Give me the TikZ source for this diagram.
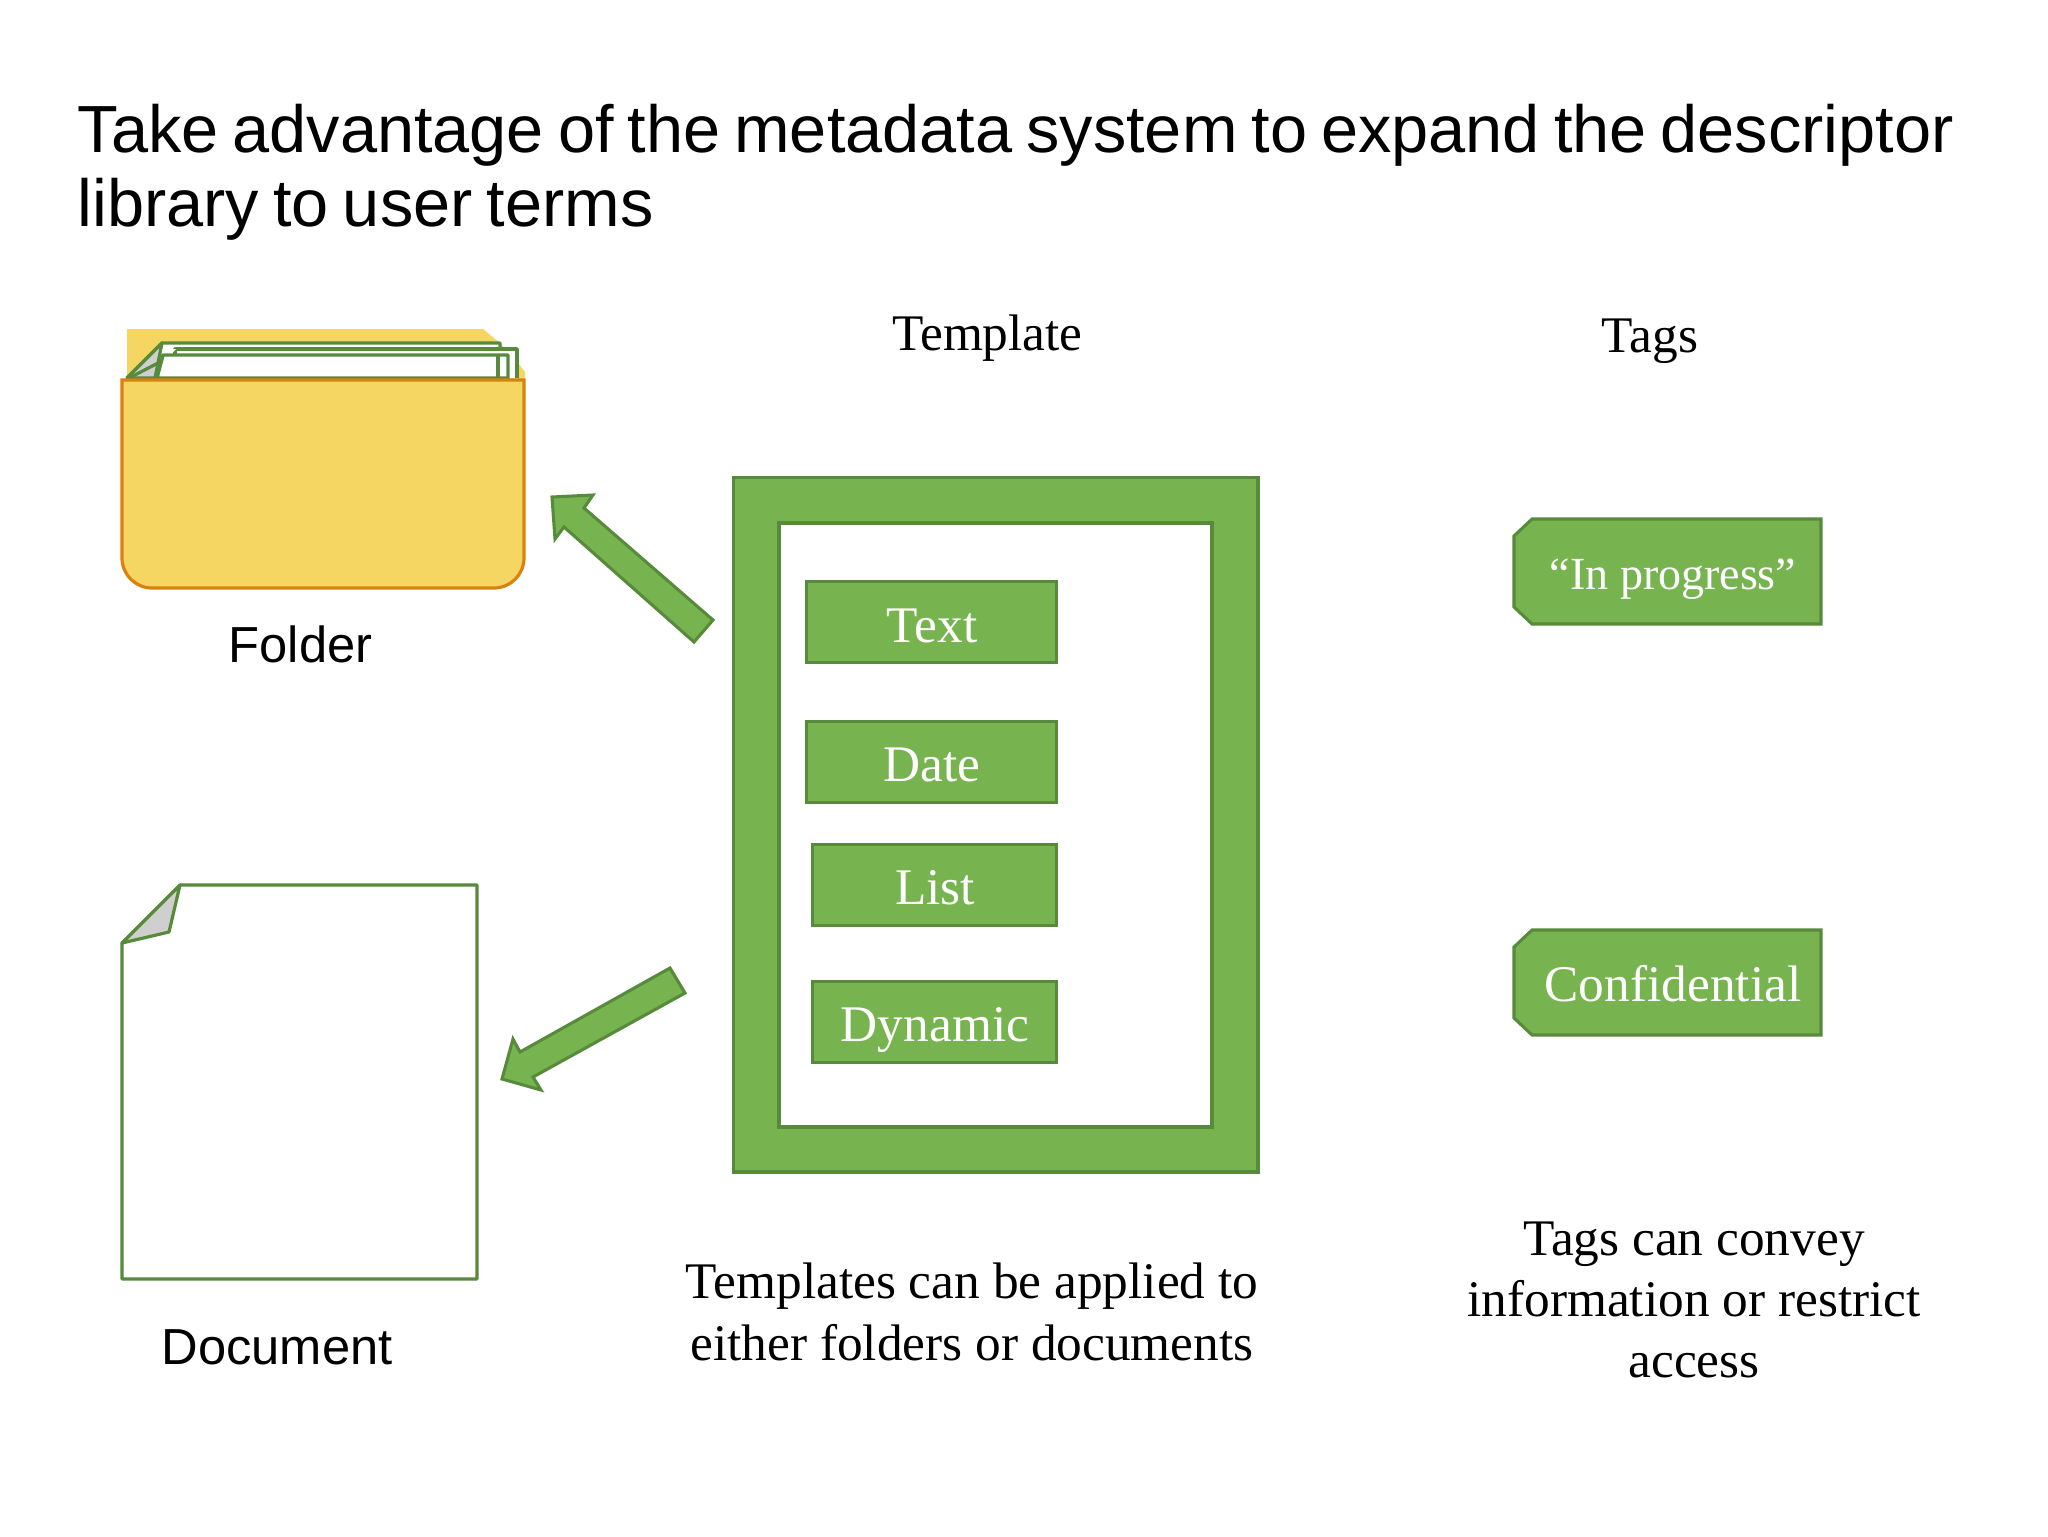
\documentclass[tikz,border=0pt]{standalone}
\usepackage{fontspec}
\setmainfont{Liberation Serif}
\newfontfamily\sansf{Liberation Sans}
\newfontfamily\titlef{Liberation Sans}[WordSpace=0.76]
\definecolor{gfill}{HTML}{77B450}
\definecolor{gline}{HTML}{578A3A}
\definecolor{yfill}{HTML}{F6D662}
\definecolor{yline}{HTML}{D9820F}
\definecolor{fold}{HTML}{CFCFCF}
\tikzset{x=0.75pt,y=-0.75pt,
  gshape/.style={fill=gfill,draw=gline,line width=2.3pt,line join=miter},
  gbox/.style={gshape,inner sep=0pt,anchor=north west},
  paper/.style={fill=white,draw=gline,line width=2.6pt,line join=round},
  foldst/.style={fill=fold,draw=gline,line width=2.4pt,line join=round},
  boxtxt/.style={text=white,font=\fontsize{38.5}{38.5}\selectfont,inner sep=0pt,anchor=center},
  serifcap/.style={text=black,font=\fontsize{38.5}{46}\selectfont,align=center,inner sep=0pt,anchor=center},
  sanscap/.style={text=black,font=\sansf\fontsize{38}{38}\selectfont,inner sep=0pt,anchor=center},
}
\begin{document}
\begin{tikzpicture}
\useasboundingbox (0,0) rectangle (2048,1536);
\fill[white] (0,0) rectangle (2048,1536);
% title
\node[anchor=north west,inner sep=0pt,align=left,text=black,font=\titlef\fontsize{50}{55.5}\selectfont] (title) at (77.5,103.5) {Take advantage of the metadata system to expand the descriptor\\library to user terms};
% folder
\fill[yfill] (127,329) -- (483,329) -- (500,343) -- (518,363) -- (525,372) -- (525,400) -- (127,400) -- cycle;
\draw[paper] (127,378) -- (162,343) -- (500,343) -- (500,378);
\draw[paper] (175,378) -- (175,349) -- (517,349) -- (517,378);
\draw[paper] (157,378) -- (163,355) -- (508,355) -- (508,378) -- cycle;
\draw[gline,line width=2.4pt] (498,356) -- (498,378);
\fill[white] (163,349) -- (176,349) -- (172,353) -- (163,353) -- cycle;
\draw[foldst] (127,378) -- (162,343) -- (155,378) -- cycle;
\draw[gline,line width=2.4pt] (131,377) -- (160,362);
\path[fill=yfill,draw=yline,line width=2.4pt] (122,380) -- (524,380) -- (524,558) arc[start angle=0,end angle=90,radius=30] -- (152,588) arc[start angle=90,end angle=180,radius=30] -- cycle;
% document
\path[fill=white,draw=gline,line width=2.3pt,line join=round] (122,943) -- (180,885) -- (477,885) -- (477,1279) -- (122,1279) -- cycle;
\draw[foldst] (122,943) -- (180,885) -- (169,932) -- cycle;
% arrows
\draw[gshape] (713,620) -- (694,642) -- (564,527) -- (555,539) -- (552,497) -- (593,495) -- (584,508) -- cycle;
\draw[gshape] (670,968) -- (685,993) -- (533,1077) -- (541,1090) -- (502,1079) -- (513,1039) -- (520,1052) -- cycle;
% template
\path[fill=white,draw=gline,line width=2.3pt] (779,523) rectangle (1212,1127);
\path[fill=gfill,draw=gline,line width=2.3pt,even odd rule] (733.5,477.5) rectangle (1258,1172) (779,523) rectangle (1212,1127);
\node[gbox,minimum width=250*0.75pt,minimum height=81*0.75pt] (text) at (805,580) {};
\node[gbox,minimum width=250*0.75pt,minimum height=81*0.75pt] (date) at (805,720) {};
\node[gbox,minimum width=244*0.75pt,minimum height=81*0.75pt] (list) at (811,843) {};
\node[gbox,minimum width=244*0.75pt,minimum height=81*0.75pt] (dyn) at (811,980) {};
\node[boxtxt] (ttext) at (932,626) {Text};
\node[boxtxt] (tdate) at (932,765) {Date};
\node[boxtxt] (tlist) at (935,888) {List};
\node[boxtxt] (tdyn) at (935,1030.5) {Dynamic};
% tags
\draw[gshape] (1532,519) -- (1821,519) -- (1821,624) -- (1532,624) -- (1514,607) -- (1514,536) -- cycle;
\draw[gshape] (1532,930) -- (1821,930) -- (1821,1035) -- (1532,1035) -- (1514,1018) -- (1514,947) -- cycle;
\node[text=white,font=\fontsize{34.5}{34.5}\selectfont,inner sep=0pt] (tprog) at (1673,579) {“In progress”};
\node[boxtxt] (tconf) at (1673,984) {Confidential};
% captions
\node[serifcap] (ctemp) at (987.5,338) {Template};
\node[serifcap] (ctags) at (1650,341) {Tags};
\node[sanscap] (cfold) at (300.5,644) {Folder};
\node[sanscap] (cdoc) at (277,1347.5) {Document};
\node[serifcap] (cap1) at (972,1312) {Templates can be applied to\\either folders or documents};
\node[serifcap] (cap2) at (1694,1300) {Tags can convey\\information or restrict\\access};
\end{tikzpicture}
\end{document}
